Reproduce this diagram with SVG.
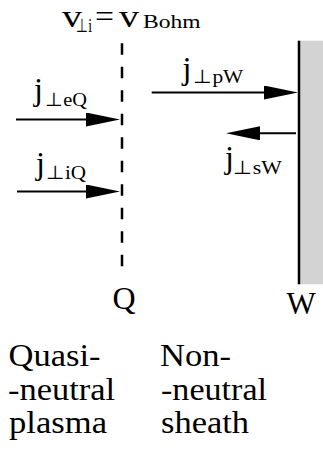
<svg xmlns="http://www.w3.org/2000/svg" width="323" height="453" viewBox="0 0 323 453">
<style>
text { font-family: "Liberation Serif", "Times New Roman", serif; fill: #000; }
.big { font-size: 31px; }
.sub { font-size: 19px; }
.line { stroke: #000; stroke-width: 2; fill: none; }
</style>
<defs>
<marker id="ah" viewBox="0 0 34 14" refX="14" refY="7" markerWidth="34" markerHeight="14" markerUnits="userSpaceOnUse" orient="auto">
<path d="M0,0 L34,7 L0,14 Z" fill="#000"/>
</marker>
</defs>
<rect width="323" height="453" fill="#fff"/>
<g id="title">
<text class="big" x="62" y="26.7" textLength="20" lengthAdjust="spacingAndGlyphs">v</text>
<text class="sub" x="76" y="31.7" textLength="16" lengthAdjust="spacingAndGlyphs">⊥i</text>
<text class="big" x="95" y="26.7" textLength="19" lengthAdjust="spacingAndGlyphs">=</text>
<text class="big" x="119" y="26.7" textLength="20" lengthAdjust="spacingAndGlyphs">v</text>
<text class="sub" x="143" y="28.3" textLength="57.5" lengthAdjust="spacingAndGlyphs">Bohm</text>
</g>
<g id="Q">
<line x1="122" y1="43.3" x2="122" y2="267" stroke="#000" stroke-width="2.5" stroke-dasharray="11.5 12"/>
<text class="big" x="112.5" y="308.5" style="font-size:32px">Q</text>
</g>
<g id="W">
<rect x="300" y="40.7" width="23" height="243.6" fill="#d3d3d3"/>
<line x1="299" y1="40.7" x2="299" y2="284.3" stroke="#000" stroke-width="2.5"/>
<text class="big" x="286.5" y="314">W</text>
</g>
<g id="connectors">
<line class="line" x1="16" y1="119.5" x2="100" y2="119.5" marker-end="url(#ah)"/>
<line class="line" x1="17" y1="191.5" x2="100" y2="191.5" marker-end="url(#ah)"/>
<line class="line" x1="151.7" y1="92.5" x2="278" y2="92.5" marker-end="url(#ah)"/>
<line class="line" x1="296" y1="133.3" x2="246" y2="133.3" marker-end="url(#ah)"/>
</g>
<g id="label-jeQ">
<text class="big" x="34" y="99.5" style="font-size:32px">j</text>
<text class="sub" x="45" y="106" textLength="42" lengthAdjust="spacingAndGlyphs">⊥eQ</text>
</g>
<g id="label-jiQ">
<text class="big" x="36" y="174.2" style="font-size:32px">j</text>
<text class="sub" x="46" y="179" textLength="40" lengthAdjust="spacingAndGlyphs">⊥iQ</text>
</g>
<g id="label-jpW">
<text class="big" x="182.5" y="78.5" style="font-size:32px">j</text>
<text class="sub" x="193.3" y="82.5" textLength="50" lengthAdjust="spacingAndGlyphs">⊥pW</text>
</g>
<g id="label-jsW">
<text class="big" x="225" y="168" style="font-size:32px">j</text>
<text class="sub" x="233.3" y="174" textLength="48.5" lengthAdjust="spacingAndGlyphs">⊥sW</text>
</g>
<g id="plasma">
<text class="big" x="8.5" y="366" textLength="92" lengthAdjust="spacingAndGlyphs">Quasi-</text>
<text class="big" x="8" y="400" textLength="107" lengthAdjust="spacingAndGlyphs">-neutral</text>
<text class="big" x="9" y="433" textLength="98" lengthAdjust="spacingAndGlyphs">plasma</text>
</g>
<g id="sheath">
<text class="big" x="160" y="366" textLength="71" lengthAdjust="spacingAndGlyphs">Non-</text>
<text class="big" x="161" y="400" textLength="106" lengthAdjust="spacingAndGlyphs">-neutral</text>
<text class="big" x="161" y="433" textLength="88" lengthAdjust="spacingAndGlyphs">sheath</text>
</g>
</svg>
